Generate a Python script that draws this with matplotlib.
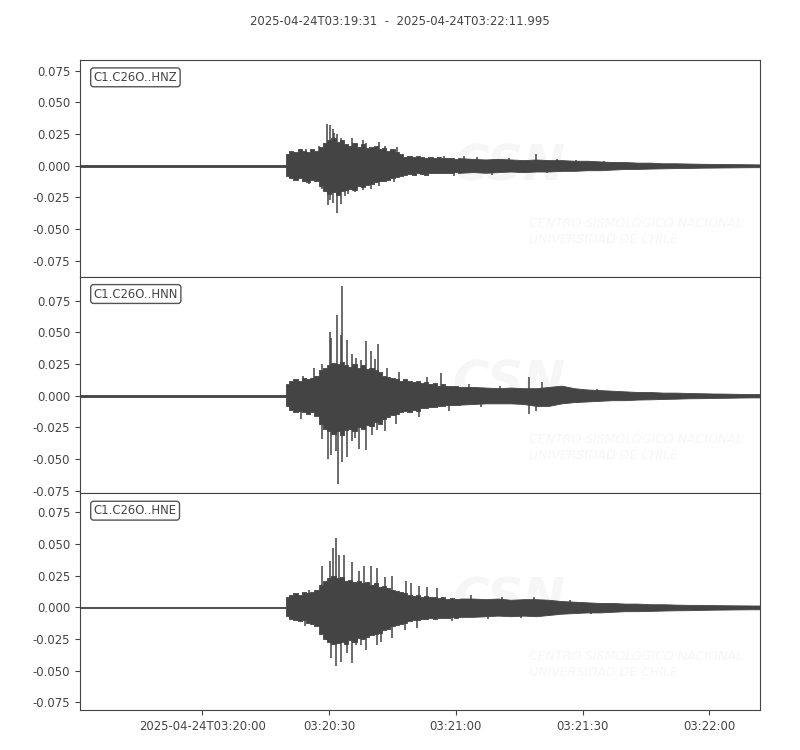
import matplotlib
matplotlib.use('Agg')
import matplotlib.pyplot as plt
from matplotlib.ticker import MultipleLocator
import numpy as np

start = '2025-04-24T03:19:31'
end = '2025-04-24T03:22:11.995'
duration = 160.995

channels = ['C1.C26O..HNZ', 'C1.C26O..HNN', 'C1.C26O..HNE']

# min/max envelope per time bin (seconds after start), values in units of 1e-3
quiet_t = [0, 48.6]
fine_t = list(range(49, 91))          # 1 s bins through the strong motion
coda_t = list(range(93, 160, 3)) + [161]  # 3 s bins in the coda
quiet_amp = 0.6

hi = [
    [9, 12, 11, 13, 12, 11, 13, 12, 15, 18, 20, 22, 19, 20, 17, 16, 18, 15, 17, 14, 15, 16, 13, 14,
     12, 13, 11, 9, 7, 8, 7, 8, 7, 6.5, 7, 6, 7, 6, 6.5, 6, 5.5, 6,
     5.5, 5, 5.5, 5, 4.5, 5, 4.5, 4.5, 4, 4, 3.5, 3, 3, 2.5, 2.5, 2, 2, 1.8, 1.6, 1.5, 1.4, 1.3,
     1.2, 1.1],
    [9, 12, 13, 12, 14, 13, 14, 16, 20, 22, 24, 26, 25, 27, 24, 23, 25, 22, 24, 21, 22, 20, 19, 16,
     15, 14, 13, 12, 13, 12, 11, 12, 10, 11, 9, 10, 8, 9, 8, 7.5, 8, 7,
     7, 6.5, 6, 6.5, 6, 6, 7, 8, 6, 5, 4.5, 4, 3.5, 3, 3, 2.5, 2.5, 2.2, 2, 1.8, 1.7, 1.5, 1.4,
     1.3],
    [8, 10, 11, 10, 12, 11, 12, 14, 18, 21, 23, 25, 23, 24, 21, 22, 20, 21, 19, 20, 18, 19, 16, 17,
     15, 14, 13, 12, 11, 10, 9, 10, 8.5, 9, 8, 8.5, 7.5, 8, 7, 7.5, 7, 7,
     7, 6.5, 7, 6, 6.5, 6.5, 6, 5, 4.5, 4, 3.5, 3.5, 3, 3, 2.5, 2.5, 2.2, 2, 2, 1.8, 1.7, 1.6,
     1.5, 1.5],
]
lo = [
    [-8, -10, -11, -10, -12, -13, -11, -12, -16, -20, -22, -21, -23, -20, -19, -18, -19, -16, -17,
     -15, -14, -13, -12, -12, -11, -10, -9, -8, -7, -6.5, -7, -6, -6.5, -7, -6, -6, -5.5, -6,
     -5.5, -6, -5, -5.5,
     -5, -5.5, -5, -4.5, -5, -4.5, -4.5, -4, -4, -3.5, -3.5, -3, -2.5, -2.5, -2.2, -2, -1.8,
     -1.7, -1.5, -1.4, -1.3, -1.2, -1.1, -1.1],
    [-8, -11, -13, -12, -13, -14, -13, -16, -22, -26, -28, -30, -28, -31, -27, -26, -28, -25, -26,
     -23, -24, -21, -22, -18, -17, -15, -14, -13, -12, -13, -11, -12, -10, -10, -9, -9, -8, -8,
     -7.5, -7, -7.5, -7,
     -6.5, -6, -6, -6, -6.5, -8, -8, -6, -5, -4.5, -4, -3.5, -3.5, -3, -2.8, -2.5, -2.3, -2,
     -1.9, -1.7, -1.6, -1.4, -1.3, -1.3],
    [-7, -9, -10, -11, -10, -12, -13, -15, -21, -25, -27, -29, -28, -27, -29, -26, -27, -24, -25,
     -23, -22, -21, -20, -18, -17, -15, -14, -13, -12, -11, -10, -10, -9, -9.5, -8.5, -9, -8,
     -8.5, -8, -7.5, -8, -7.5,
     -7.5, -7, -6.5, -7, -6.5, -7, -6, -5, -4.5, -4, -4, -3.5, -3, -3, -2.8, -2.5, -2.3, -2.2,
     -2, -1.8, -1.7, -1.6, -1.5, -1.5],
]

# single peaks that stick out of the envelope (seconds, value)
spike_t = [
    [58.4, 59.1, 59.8, 60.2, 60.9, 61.9, 64.3, 66.9, 67.6, 70.9, 72.3, 75.1, 56.7, 52.0, 53.4,
     108.0, 94.0, 86.2, 91.0, 101.5, 113.0, 117.5, 124.0,
     57.2, 58.6, 59.3, 60.0, 60.9, 61.7, 62.8, 63.5, 65.2, 67.1, 69.0, 70.9, 74.4, 54.3, 88.6,
     97.5, 104.0, 110.5, 120.0],
    [55.5, 52.7, 57.4, 59.1, 59.5, 60.9, 61.7, 62.1, 63.1, 64.3, 65.4, 66.6, 67.8, 69.0, 69.9,
     70.6, 72.8, 75.6, 82.2, 85.5, 106.3, 109.4, 92.0, 99.5, 115.0, 122.5,
     52.4, 57.4, 58.8, 59.5, 60.5, 61.2, 62.1, 63.3, 64.3, 65.2, 66.1, 67.8, 69.2, 70.4, 72.1,
     74.9, 80.3, 87.4, 106.3, 108.0, 95.0, 118.0],
    [57.4, 59.1, 59.8, 60.7, 61.4, 62.6, 64.3, 66.1, 67.3, 69.0, 70.4, 72.1, 73.9, 77.3, 78.4,
     80.3, 82.2, 84.6, 54.3, 92.5, 100.0, 107.5, 116.0,
     53.2, 58.4, 59.5, 60.7, 61.9, 63.1, 64.5, 65.4, 66.6, 67.8, 70.2, 71.3, 73.9, 77.0, 79.8,
     88.0, 96.5, 104.5, 121.0],
]
spike_v = [
    [0.033, 0.032, 0.029, 0.026, 0.025, 0.022, 0.022, 0.020, 0.018, 0.019, 0.016, 0.015, 0.016,
     0.013, 0.013, 0.009, 0.007, 0.008, 0.0075, 0.0065, 0.005, 0.0045, 0.004,
     -0.018, -0.031, -0.027, -0.029, -0.037, -0.030, -0.024, -0.022, -0.021, -0.019, -0.018,
     -0.016, -0.013, -0.014, -0.008, -0.007, -0.006, -0.0055, -0.004],
    [0.022, 0.016, 0.025, 0.050, 0.046, 0.064, 0.048, 0.087, 0.044, 0.033, 0.030, 0.028, 0.043,
     0.035, 0.029, 0.041, 0.022, 0.019, 0.015, 0.018, 0.015, 0.011, 0.009, 0.008, 0.0065, 0.005,
     -0.018, -0.034, -0.050, -0.047, -0.044, -0.070, -0.052, -0.048, -0.036, -0.033, -0.042,
     -0.043, -0.031, -0.027, -0.028, -0.022, -0.017, -0.012, -0.014, -0.012, -0.009, -0.006],
    [0.033, 0.037, 0.047, 0.055, 0.041, 0.041, 0.036, 0.029, 0.033, 0.033, 0.031, 0.024, 0.025,
     0.021, 0.019, 0.017, 0.016, 0.015, 0.014, 0.0095, 0.008, 0.0085, 0.006,
     -0.015, -0.026, -0.040, -0.046, -0.043, -0.036, -0.044, -0.030, -0.030, -0.034, -0.030,
     -0.027, -0.024, -0.018, -0.016, -0.011, -0.0095, -0.008, -0.005],
]

tick_sec = [29, 59, 89, 119, 149]
tick_labels = ['2025-04-24T03:20:00', '03:20:30', '03:21:00', '03:21:30', '03:22:00']

col = '#444444'
plt.rcParams['font.size'] = 8.4
plt.rcParams['text.color'] = col
plt.rcParams['axes.edgecolor'] = col
plt.rcParams['xtick.color'] = col
plt.rcParams['ytick.color'] = col

fig, axes = plt.subplots(3, 1, sharex=True, figsize=(8, 7.5), dpi=100)
fig.subplots_adjust(left=0.1, right=0.95, top=0.92, bottom=0.0533, hspace=0)

n_head = len(quiet_t) + len(fine_t)
t_head = np.array(quiet_t + fine_t, dtype=float)
t_coda = np.array(fine_t[-1:] + coda_t, dtype=float)

# same vertical span for all traces, centred on each one
halves, centers = [], []
for i in range(3):
    vmax = max(max(hi[i]) / 1000, max(spike_v[i]))
    vmin = min(min(lo[i]) / 1000, min(spike_v[i]))
    halves.append((vmax - vmin) / 2)
    centers.append((vmax + vmin) / 2)
half = max(halves) * 1.09

for i, ax in enumerate(axes):
    up = np.array([quiet_amp] * 2 + hi[i]) / 1000
    dn = np.array([-quiet_amp] * 2 + lo[i]) / 1000
    # strong motion drawn bin by bin, the coda as a smooth decay
    ax.fill_between(t_head, dn[:n_head], up[:n_head], step='mid', color=col, lw=0.6,
                    edgecolor=col, zorder=2)
    ax.fill_between(t_coda, dn[n_head - 1:], up[n_head - 1:], color=col, lw=0.6,
                    edgecolor=col, zorder=2)
    ax.vlines(spike_t[i], 0, spike_v[i], color=col, lw=1.1, zorder=2)
    ax.set_ylim(centers[i] - half, centers[i] + half)
    ax.yaxis.set_major_locator(MultipleLocator(0.025))
    ax.yaxis.set_major_formatter(plt.FormatStrFormatter('%.3f'))
    ax.text(0.02, 0.95, channels[i], transform=ax.transAxes, va='top', ha='left',
            zorder=5, bbox=dict(boxstyle='round,pad=0.25', fc='white', ec='#555555', lw=1))
    # faint watermark of the network operator
    ax.text(0.63, 0.51, 'CSN', transform=ax.transAxes, fontsize=36, fontweight='bold',
            style='italic', color='#f6f6f6', va='center', ha='center', zorder=0)
    ax.text(0.66, 0.21, 'CENTRO SISMOLÓGICO NACIONAL\nUNIVERSIDAD DE CHILE', transform=ax.transAxes,
            fontsize=9, style='italic', color='#f6f6f6', va='center', ha='left', zorder=0,
            linespacing=1.3)
    if i < 2:
        ax.tick_params(axis='x', bottom=False, labelbottom=False)

axes[-1].set_xlim(0, duration)
axes[-1].set_xticks(tick_sec)
axes[-1].set_xticklabels(tick_labels)

fig.suptitle(start + '  -  ' + end, fontsize=8.4, y=0.98)

plt.savefig('out.png')
